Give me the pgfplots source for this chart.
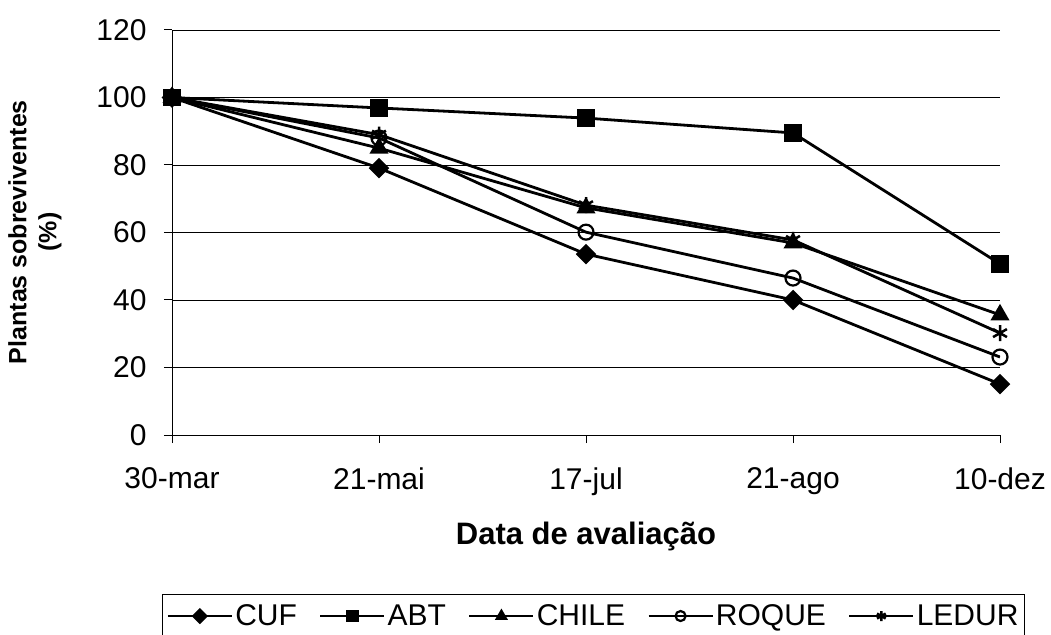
\documentclass[border=0pt]{standalone}
\usepackage{pgfplots}
\pgfplotsset{compat=1.18}
\usepackage{fontspec}
\setmainfont{Liberation Sans}
\newcommand{\lgf}{\fontsize{30bp}{34bp}\selectfont}
\begin{document}
\begin{tikzpicture}
\useasboundingbox (0,0) rectangle (1051bp,635bp);
\begin{axis}[
  at={(172bp,200bp)}, anchor=south west,
  scale only axis, width=828bp, height=405bp,
  xmin=0, xmax=4, ymin=0, ymax=120,
  axis lines*=left,
  axis line style={line width=1bp, -},
  xtick={0,1,2,3,4},
  xticklabels={30-mar,21-mai,17-jul,21-ago,10-dez},
  ytick={0,20,...,120},
  ymajorgrids, grid style={black, line width=0.6bp},
  tick align=outside, major tick length=8bp,
  tick style={black, line width=1bp},
  /pgf/number format/assume math mode=true,
  tick label style={font=\fontsize{30bp}{34bp}\selectfont},
  xticklabel style={yshift=-21bp},
  yticklabel style={xshift=-14bp},
  xlabel={\textbf{Data de avaliação}},
  xlabel style={font=\fontsize{31bp}{36bp}\selectfont, yshift=-20bp},
  ylabel={\textbf{Plantas sobreviventes}\\\textbf{(\%)}},
  ylabel style={font=\fontsize{25bp}{30bp}\selectfont, align=center,
    at={(axis description cs:-0.1655,0.501)}, anchor=center},
  legend columns=5,
  legend style={at={(axis description cs:0.509,-0.447)}, anchor=center,
    draw=black, line width=1bp, font=\lgf,
    /tikz/every even column/.append style={column sep=20bp},
    inner xsep=4bp, inner ysep=8bp},
  legend image code/.code={\draw[mark repeat=2, mark phase=2, mark size=5bp] plot coordinates {(0bp,0bp) (32bp,0bp) (64bp,0bp)};},
  every axis plot/.append style={black, line width=2.8bp, mark size=8bp, mark options={solid, line width=2.5bp}},
]
\addplot[mark=square*, mark size=6.5bp, mark options={rotate=45, line width=1.5bp}] coordinates {(0,100) (1,79.1) (2,53.6) (3,40.0) (4,15.1)};
\addlegendentry{\lgf CUF}
\addplot[mark=square*, mark size=7.5bp] coordinates {(0,100) (1,96.9) (2,93.9) (3,89.5) (4,50.7)};
\addlegendentry{\lgf ABT}
\addplot[mark=triangle*, mark size=8.5bp] coordinates {(0,100) (1,85.0) (2,67.3) (3,56.9) (4,35.6)};
\addlegendentry{\lgf CHILE}
\addplot[mark=o, mark size=7.5bp, mark options={fill=white, line width=2.2bp}] coordinates {(0,100) (1,88.0) (2,60.1) (3,46.5) (4,23.1)};
\addlegendentry{\lgf ROQUE}
\addplot[mark=asterisk, mark size=8bp] coordinates {(0,100) (1,89.0) (2,68.1) (3,57.8) (4,30.2)};
\addlegendentry{\lgf LEDUR}
\end{axis}
\end{tikzpicture}
\end{document}
